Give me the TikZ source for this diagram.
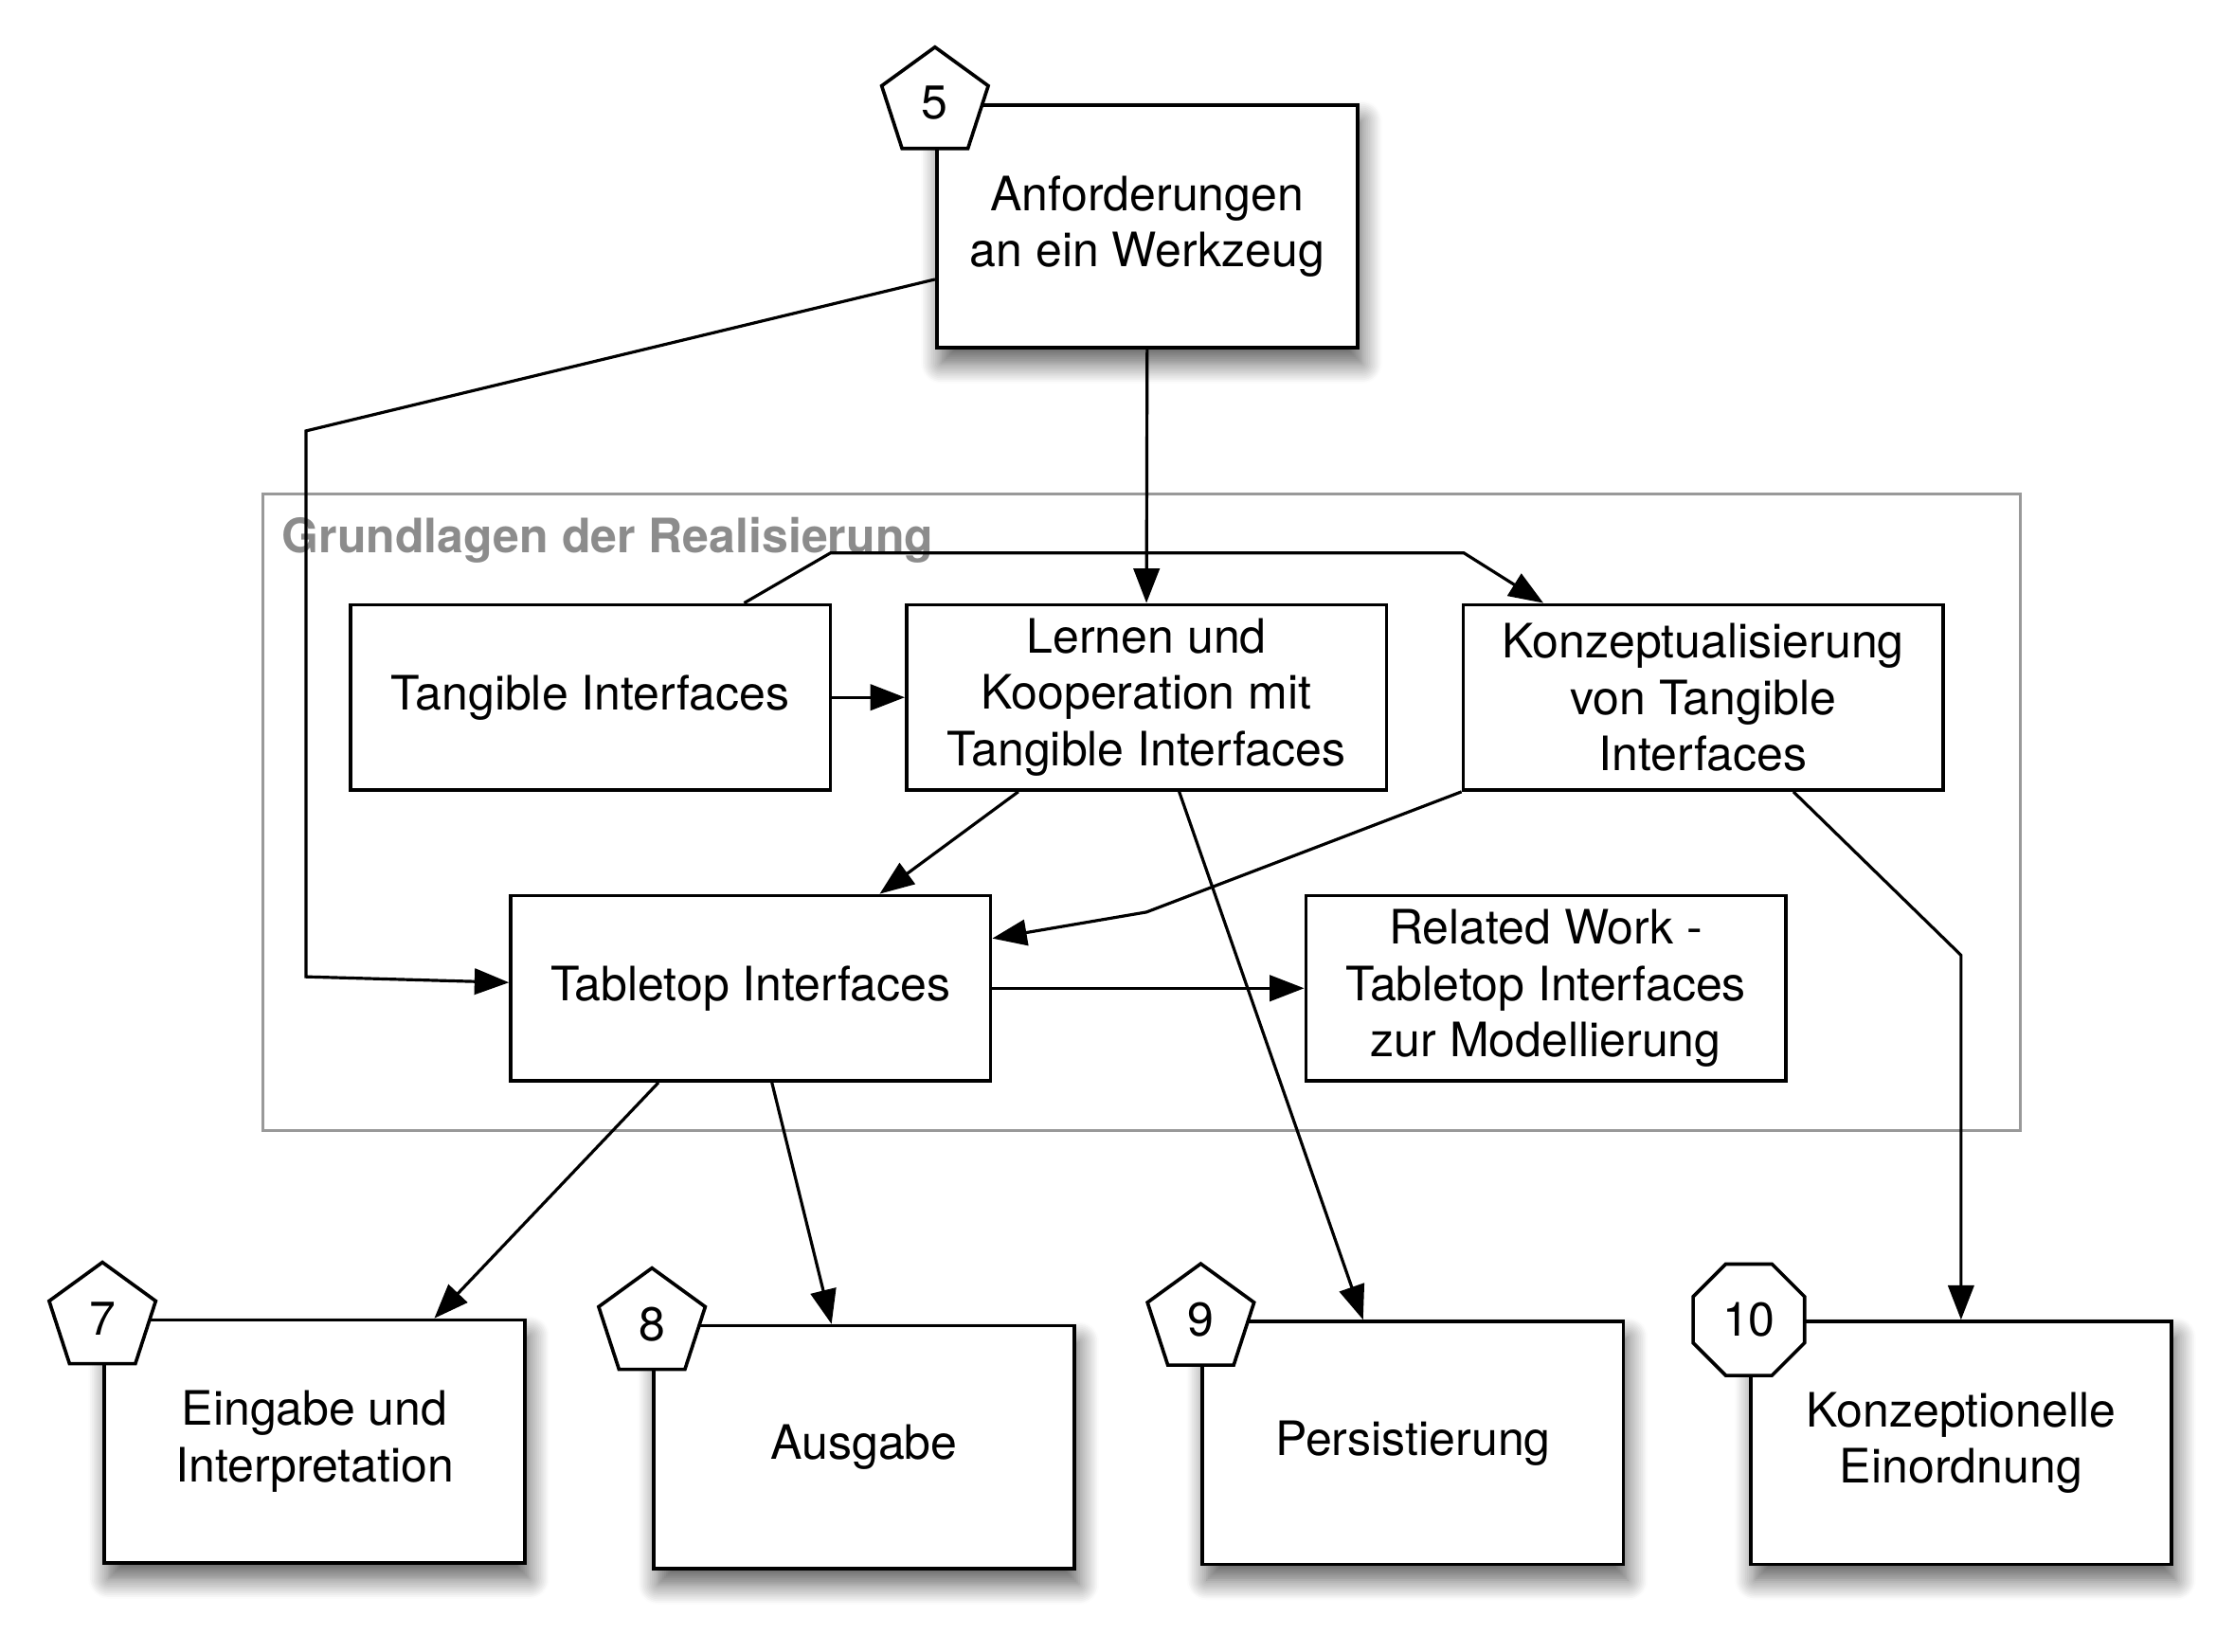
\documentclass[tikz,border=0pt]{standalone}
\usepackage{fontspec}
\setmainfont{TeX Gyre Heros}
\usetikzlibrary{arrows.meta,shapes.geometric,calc,shadows.blur}

\begin{document}
\begin{tikzpicture}[x=0.5pt,y=-0.5pt,
  box/.style={draw,line width=1.2pt,fill=white,minimum width=167pt,minimum height=64.5pt,inner sep=0pt,align=center,font=\fontsize{16.5}{19.5}\selectfont},
  bigbox/.style={box,minimum width=146.5pt,minimum height=84.5pt,blur shadow={shadow xshift=1.5pt,shadow yshift=-5.5pt,shadow blur radius=7pt,shadow blur steps=12,shadow opacity=65}},
  penta/.style={draw,line width=1.2pt,fill=white,regular polygon,regular polygon sides=5,minimum size=39pt,inner sep=0pt,font=\fontsize{16.5}{19.5}\selectfont},
  octa/.style={penta,regular polygon sides=8,minimum size=42pt},
  arr/.style={-{Triangle[length=12pt,width=9pt]},line width=1.05pt}]
\useasboundingbox (0,0) rectangle (1555,1150);
\node[draw=black!40,line width=1pt,minimum width=611.5pt,minimum height=221.5pt] (grp) at (794.5,565.5) {};
\node[anchor=west,inner sep=0pt,text=black!45,font=\bfseries\fontsize{16.5}{19.5}\selectfont] (grptitle) at ($(grp.north west)+(14,33)$) {Grundlagen der Realisierung};
\node[bigbox] (req) at (798.5,157.5) {Anforderungen\\an ein Werkzeug};
\node[penta] (n5) at (req.north west) {5};
\node[box] (tang) at (411,485.5) {Tangible Interfaces};
\node[box] (lern) at (798,485.5) {Lernen und\\Kooperation mit\\Tangible Interfaces};
\node[box] (konz) at (1185.5,485.5) {Konzeptualisierung\\von Tangible\\Interfaces};
\node[box] (table) at (522.5,688) {Tabletop Interfaces};
\node[box] (rel) at (1076,688) {Related Work -\\Tabletop Interfaces\\zur Modellierung};
\node[bigbox] (ein) at (219,1003.5) {Eingabe und\\Interpretation};
\node[penta] (n7) at (ein.north west) {7};
\node[bigbox] (aus) at (601.5,1007.5) {Ausgabe};
\node[penta] (n8) at (aus.north west) {8};
\node[bigbox] (pers) at (983.5,1004.5) {Persistierung};
\node[penta] (n9) at (pers.north west) {9};
\node[bigbox] (konze) at (1365,1004.5) {Konzeptionelle\\Einordnung};
\node[octa] (n10) at (konze.north west) {10};
\coordinate (b1) at (213,300);
\coordinate (b2) at (213,680);
\coordinate (b3) at (578,385);
\coordinate (b4) at (1019,385);
\coordinate (b5) at (798,635);
\coordinate (b6) at (1365,665);
\draw[arr] ($(req.west)+(0,37)$) -- (b1) -- (b2) -- ($(table.west)+(0,-4)$);
\draw[arr] (req.south) -- (lern.north);
\draw[arr] ($(tang.north)+(107,0)$) -- (b3) -- (b4) -- ($(konz.north west)+(57,0)$);
\draw[arr] (tang.east) -- (lern.west);
\draw[arr] ($(lern.south west)+(79,0)$) -- ($(table.north west)+(258,0)$);
\draw[arr] (konz.south west) -- (b5) -- ($(table.north east)+(0,31)$);
\draw[arr] (table.east) -- (rel.west);
\draw[arr] ($(lern.south west)+(191,0)$) -- ($(pers.north west)+(113,0)$);
\draw[arr] ($(konz.south west)+(231,0)$) -- (b6) -- (konze.north);
\draw[arr] ($(table.south west)+(104,0)$) -- ($(ein.north west)+(231,0)$);
\draw[arr] ($(table.south west)+(183,0)$) -- ($(aus.north west)+(125,0)$);
\end{tikzpicture}
\end{document}
